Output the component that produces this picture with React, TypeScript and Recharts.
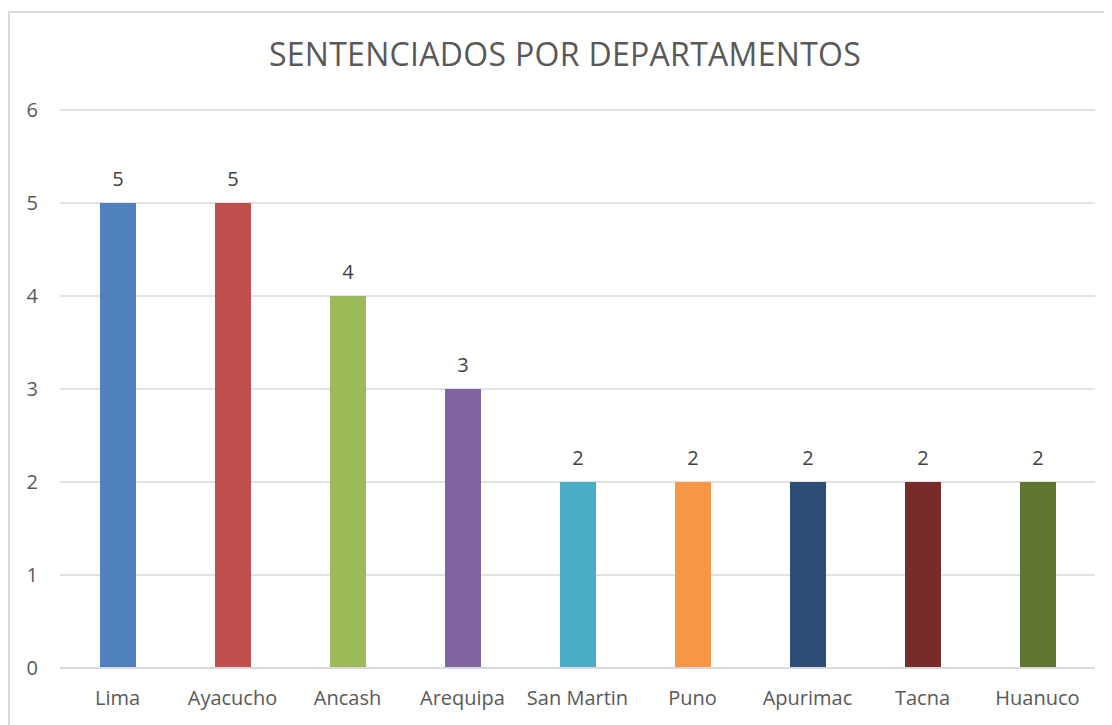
import { BarChart, Bar, XAxis, YAxis, CartesianGrid, Cell, LabelList } from "recharts"

const DEPARTAMENTOS = ["Lima", "Ayacucho", "Ancash", "Arequipa", "San Martin", "Puno", "Apurimac", "Tacna", "Huanuco"]
const SENTENCIADOS = [5, 5, 4, 3, 2, 2, 2, 2, 2]
const COLORES = ["#4F81BD", "#C0504D", "#9BBB59", "#8064A2", "#4BACC6", "#F79646", "#2C4D75", "#772C2A", "#5F7530"]
const Y_TICKS = [0, 1, 2, 3, 4, 5, 6]

const FONT = "'Open Sans', 'Noto Sans', sans-serif"

export default function App() {
    const data = DEPARTAMENTOS.map((d, i) => ({ nombre: d, valor: SENTENCIADOS[i] }))

    return (
        <div style={{ position: "relative", width: 1104, height: 717, fontFamily: FONT }}>
            <div
                style={{
                    position: "absolute", left: 0, top: 3, width: 1110, height: 720,
                    borderLeft: "2px solid #d9d9d9", borderTop: "2px solid #d9d9d9",
                }}
            />
            <div
                style={{
                    position: "absolute", left: 0, width: 1114, top: 24, textAlign: "center",
                    fontSize: 32, color: "#595959", letterSpacing: 0.3,
                }}
            >
                SENTENCIADOS POR DEPARTAMENTOS
            </div>
            <BarChart
                width={1104}
                height={717}
                data={data}
                margin={{ top: 102, right: 17, bottom: 27, left: 12 }}
                style={{ position: "absolute", left: 0, top: 0 }}
            >
                <CartesianGrid vertical={false} stroke="#d9d9d9" strokeWidth={1.5} />
                <XAxis
                    dataKey="nombre"
                    axisLine={{ stroke: "#d9d9d9", strokeWidth: 2 }}
                    tickLine={false}
                    tickSize={0}
                    tickMargin={23}
                    height={30}
                    tick={{ fontSize: 20, fill: "#595959", fontFamily: FONT }}
                    interval={0}
                />
                <YAxis
                    domain={[0, 6]}
                    ticks={Y_TICKS}
                    axisLine={false}
                    tickLine={false}
                    tickSize={0}
                    tickMargin={22}
                    width={40}
                    tick={{ fontSize: 20, fill: "#595959", fontFamily: FONT }}
                />
                <Bar dataKey="valor" barSize={36} isAnimationActive={false}>
                    {data.map((_, i) => (
                        <Cell key={i} fill={COLORES[i]} />
                    ))}
                    <LabelList dataKey="valor" position="top" offset={17} style={{ fontSize: 20, fill: "#404040", fontFamily: FONT }} />
                </Bar>
            </BarChart>
        </div>
    )
}
